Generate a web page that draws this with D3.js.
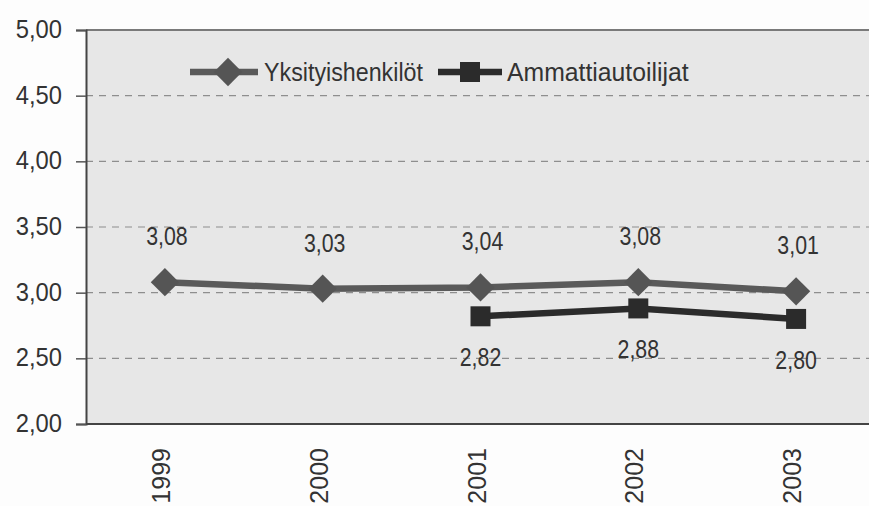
<!DOCTYPE html>
<html>
<head>
<meta charset="utf-8">
<script src="https://cdn.jsdelivr.net/npm/d3@7"></script>
<style>
  body { margin: 0; background: #fdfdfd; }
  text { font-family: "Liberation Sans", Arial, sans-serif; }
</style>
</head>
<body>
<div id="chart"></div>
<script>
const w = 869;
const h = 506;

const years = ["1999", "2000", "2001", "2002", "2003"];
const yksityis = [3.08, 3.03, 3.04, 3.08, 3.01];
const ammatti = [null, null, 2.82, 2.88, 2.80];
const yTicks = [2.0, 2.5, 3.0, 3.5, 4.0, 4.5, 5.0];

const plotLeft = 86, plotRight = 869, plotTop = 30, plotBottom = 424;

const svg = d3.select("#chart").append("svg")
  .attr("width", w)
  .attr("height", h);

const x = d3.scalePoint().domain(years).range([plotLeft, plotRight + 6]).padding(0.5);
const y = d3.scaleLinear().domain([2, 5]).range([plotBottom, plotTop]);
const fmt = (v) => v.toFixed(2).replace(".", ",");

// squeeze text a bit, the original uses a narrow face
function squeeze(sel, k) {
  sel.each(function () {
    const len = this.getComputedTextLength();
    d3.select(this).attr("textLength", len * k).attr("lengthAdjust", "spacingAndGlyphs");
  });
}

// plot background
svg.append("rect")
  .attr("x", plotLeft).attr("y", plotTop)
  .attr("width", plotRight - plotLeft).attr("height", plotBottom - plotTop)
  .attr("fill", "#e7e7e7");

// grid lines
svg.append("g")
  .selectAll("line")
  .data(yTicks.filter((d) => d > 2 && d < 5))
  .enter()
  .append("line")
  .attr("x1", plotLeft).attr("x2", plotRight)
  .attr("y1", (d) => y(d)).attr("y2", (d) => y(d))
  .attr("stroke", "#8e8e8e")
  .attr("stroke-width", 1.2)
  .attr("stroke-dasharray", "7,6");

// top border
svg.append("line")
  .attr("x1", plotLeft).attr("x2", plotRight)
  .attr("y1", plotTop).attr("y2", plotTop)
  .attr("stroke", "#7a7a7a").attr("stroke-width", 2);

// y axis
const yAxis = svg.append("g")
  .attr("transform", `translate(${plotLeft},0)`)
  .call(d3.axisLeft(y).tickValues(yTicks).tickFormat(fmt).tickSize(10).tickPadding(14));
yAxis.select(".domain").attr("stroke", "#444").attr("stroke-width", 2);
yAxis.selectAll(".tick line").attr("stroke", "#555").attr("stroke-width", 1.5);
yAxis.selectAll(".tick text")
  .attr("font-size", 25)
  .attr("fill", "#333")
  .attr("dy", "0.3em")
  .style("font-family", '"Liberation Sans", Arial, sans-serif')
  .call(squeeze, 0.95);

// x axis
const xAxis = svg.append("g")
  .attr("transform", `translate(0,${plotBottom})`)
  .call(d3.axisBottom(x).tickSize(0).tickPadding(0));
xAxis.select(".domain").remove();
svg.append("line")
  .attr("x1", plotLeft).attr("x2", plotRight)
  .attr("y1", plotBottom).attr("y2", plotBottom)
  .attr("stroke", "#444").attr("stroke-width", 2);
xAxis.selectAll(".tick text")
  .attr("font-size", 25)
  .attr("fill", "#333")
  .attr("text-anchor", "end")
  .attr("dy", "0.3em")
  .attr("transform", "translate(-3,24) rotate(-90)")
  .style("font-family", '"Liberation Sans", Arial, sans-serif');

const line = d3.line()
  .defined((d) => d != null)
  .x((d, i) => x(years[i]))
  .y((d) => y(d));

// Yksityishenkilöt
svg.append("path")
  .datum(yksityis)
  .attr("d", line)
  .attr("fill", "none")
  .attr("stroke", "#5a5a5a")
  .attr("stroke-width", 6.5);

const diamond = d3.symbol().type(d3.symbolSquare).size(400);
svg.append("g")
  .selectAll("path")
  .data(yksityis)
  .enter()
  .append("path")
  .attr("d", diamond)
  .attr("transform", (d, i) => `translate(${x(years[i])},${y(d)}) rotate(45)`)
  .attr("fill", "#555");

svg.append("g")
  .selectAll("text")
  .data(yksityis)
  .enter()
  .append("text")
  .attr("x", (d, i) => x(years[i]) + 2)
  .attr("y", (d) => y(d) - 37)
  .attr("text-anchor", "middle")
  .attr("font-size", 26)
  .attr("fill", "#333")
  .text(fmt)
  .call(squeeze, 0.82);

// Ammattiautoilijat
svg.append("path")
  .datum(ammatti)
  .attr("d", line)
  .attr("fill", "none")
  .attr("stroke", "#2b2b2b")
  .attr("stroke-width", 6.5);

const ammPoints = ammatti.map((d, i) => ({ v: d, yr: years[i] })).filter((d) => d.v != null);

svg.append("g")
  .selectAll("rect")
  .data(ammPoints)
  .enter()
  .append("rect")
  .attr("x", (d) => x(d.yr) - 10)
  .attr("y", (d) => y(d.v) - 10)
  .attr("width", 20)
  .attr("height", 20)
  .attr("fill", "#2b2b2b");

svg.append("g")
  .selectAll("text")
  .data(ammPoints)
  .enter()
  .append("text")
  .attr("x", (d) => x(d.yr))
  .attr("y", (d) => y(d.v) + 50)
  .attr("text-anchor", "middle")
  .attr("font-size", 26)
  .attr("fill", "#333")
  .text((d) => fmt(d.v))
  .call(squeeze, 0.82);

// legend
const legend = svg.append("g").attr("id", "legend");
legend.append("line")
  .attr("x1", 190).attr("x2", 258).attr("y1", 72).attr("y2", 72)
  .attr("stroke", "#5a5a5a").attr("stroke-width", 6.5);
legend.append("path")
  .attr("d", diamond)
  .attr("transform", "translate(228,72) rotate(45)")
  .attr("fill", "#555");
legend.append("text")
  .attr("x", 264).attr("y", 81)
  .attr("font-size", 25).attr("fill", "#333")
  .text("Yksityishenkilöt")
  .call(squeeze, 0.93);
legend.append("line")
  .attr("x1", 438).attr("x2", 502).attr("y1", 72).attr("y2", 72)
  .attr("stroke", "#2b2b2b").attr("stroke-width", 6.5);
legend.append("rect")
  .attr("x", 460).attr("y", 62).attr("width", 20).attr("height", 20)
  .attr("fill", "#2b2b2b");
legend.append("text")
  .attr("x", 507).attr("y", 81)
  .attr("font-size", 25).attr("fill", "#333")
  .text("Ammattiautoilijat")
  .call(squeeze, 0.99);
</script>
</body>
</html>
